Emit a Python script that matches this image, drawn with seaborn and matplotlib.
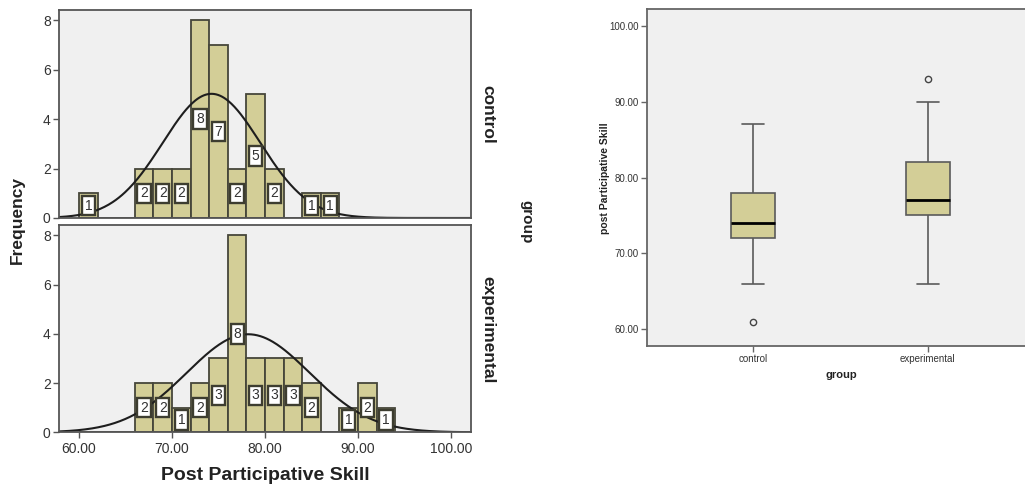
import numpy as np
import pandas as pd
import matplotlib
matplotlib.use("Agg")
import matplotlib.pyplot as plt
import seaborn as sns

# ---------------- data ----------------
groups = ["control", "experimental"]
control_scores = [61, 66, 67, 68, 69, 70, 71,
                  72, 72, 72, 72, 72, 73, 73, 73,
                  74, 74, 74, 74, 75, 75, 75,
                  76, 77, 78, 78, 78, 79, 79, 80, 81, 85, 87]
experimental_scores = [66, 67, 68, 69, 71, 72, 73,
                       75, 75, 75, 76, 76, 76, 77, 77, 77, 77, 77,
                       78, 79, 79, 80, 81, 81, 82, 82, 83, 84, 85,
                       89, 90, 90, 93]
bin_edges = list(range(60, 96, 2))
hist_xticks = [60, 70, 80, 90, 100]
hist_xticklabels = ["60.00", "70.00", "80.00", "90.00", "100.00"]
hist_yticks = [0, 2, 4, 6, 8]
box_yticks = [60, 70, 80, 90, 100]
box_yticklabels = ["60.00", "70.00", "80.00", "90.00", "100.00"]

# ---------------- style ----------------
sns.set_style("white")
plt.rcParams["font.family"] = ["Liberation Sans", "DejaVu Sans"]
KHAKI = "#D3CE97"
BG = "#F0F0F0"
BAR_EDGE = "#46463a"
SPINE = "#555555"

fig = plt.figure(figsize=(10.25, 4.87), dpi=100)
fig.patch.set_facecolor("white")

ax_top = fig.add_axes([0.0576, 0.5524, 0.402, 0.4271])
ax_bot = fig.add_axes([0.0576, 0.1123, 0.402, 0.4257])

for ax, scores, name in [(ax_top, control_scores, groups[0]),
                         (ax_bot, experimental_scores, groups[1])]:
    ax.set_facecolor(BG)
    sns.histplot(x=scores, bins=bin_edges, ax=ax, color=KHAKI, alpha=1,
                 edgecolor=BAR_EDGE, linewidth=1.3)
    cont = ax.containers[0]
    labels = [str(int(p.get_height())) if p.get_height() > 0 else "" for p in cont]
    ax.bar_label(cont, labels=labels, label_type="center", fontsize=10,
                 color="#333333",
                 bbox=dict(boxstyle="square,pad=0.2", fc="white",
                           ec="#3d3d30", lw=1.7))
    # normal curve from the data
    arr = np.asarray(scores, dtype=float)
    mu, sd = arr.mean(), arr.std(ddof=1)
    xs = np.linspace(57.85, 102.15, 400)
    ys = len(arr) * 2 / (sd * np.sqrt(2 * np.pi)) * np.exp(-0.5 * ((xs - mu) / sd) ** 2)
    ax.plot(xs, ys, color="#1e1e1e", lw=1.5)

    ax.set_xlim(57.85, 102.15)
    ax.set_ylim(0, 8.42)
    ax.set_yticks(hist_yticks)
    ax.set_yticklabels([str(t) for t in hist_yticks], fontsize=10, color="#333333")
    ax.set_ylabel("")
    ax.set_xlabel("")
    for s in ax.spines.values():
        s.set_visible(True)
        s.set_color(SPINE)
        s.set_linewidth(1.3)
    ax.tick_params(axis="y", left=True, direction="out", length=4, width=1,
                   color=SPINE, pad=2)

ax_top.set_xticks([])
ax_bot.set_xticks(hist_xticks)
ax_bot.set_xticklabels(hist_xticklabels, fontsize=10, color="#333333")
ax_bot.tick_params(axis="x", bottom=True, direction="out", length=4, width=1,
                   color=SPINE, pad=3)

fig.text(0.2585, 0.0226, "Post Participative Skill", ha="center", va="center",
         fontsize=14, fontweight="bold", color="#222222")
fig.text(0.017, 0.548, "Frequency", ha="center", va="center", rotation=90,
         fontsize=12.5, fontweight="bold", color="#222222")
fig.text(0.476, 0.766, groups[0], ha="center", va="center", rotation=270,
         fontsize=12.5, fontweight="bold", color="#222222")
fig.text(0.476, 0.324, groups[1], ha="center", va="center", rotation=270,
         fontsize=12.5, fontweight="bold", color="#222222")
fig.text(0.514, 0.544, "group", ha="center", va="center", rotation=270,
         fontsize=11, fontweight="bold", color="#222222")

# ---------------- box plot ----------------
df = pd.DataFrame({
    "group": [groups[0]] * len(control_scores) + [groups[1]] * len(experimental_scores),
    "score": control_scores + experimental_scores,
})
bx = fig.add_axes([0.631, 0.290, 0.369, 0.691])
bx.set_facecolor(BG)
sns.boxplot(data=df, x="group", y="score", order=groups, ax=bx, color=KHAKI,
            saturation=1, width=0.25, linecolor="#5a5a5a", linewidth=1.2,
            medianprops=dict(color="black", linewidth=2),
            flierprops=dict(marker="o", markerfacecolor="none",
                            markeredgecolor="#444444", markersize=4.5,
                            markeredgewidth=1))
bx.set_xlim(-0.605, 1.555)
bx.set_ylim(57.8, 102.2)
bx.set_yticks(box_yticks)
narrow = ["Liberation Sans Narrow", "Liberation Sans", "DejaVu Sans"]
bx.set_yticklabels(box_yticklabels, fontsize=7, family=narrow, color="#333333")
bx.set_xticks([0, 1])
bx.set_xticklabels(groups, fontsize=7, family=narrow, color="#333333")
bx.tick_params(axis="both", left=True, bottom=True, direction="out", length=4,
               width=1, color="#666666", pad=2)
bx.set_xlabel("")
bx.set_ylabel("")
for k, s in bx.spines.items():
    s.set_color("#666666")
    s.set_linewidth(1.3)
bx.spines["right"].set_visible(False)
fig.text(0.590, 0.635, "post Participative Skill", ha="center", va="center",
         rotation=90, fontsize=7.5, fontweight="bold", color="#222222")
fig.text(0.821, 0.230, "group", ha="center", va="center",
         fontsize=8, fontweight="bold", color="#222222")

fig.savefig("out.png", dpi=100, facecolor="white")
